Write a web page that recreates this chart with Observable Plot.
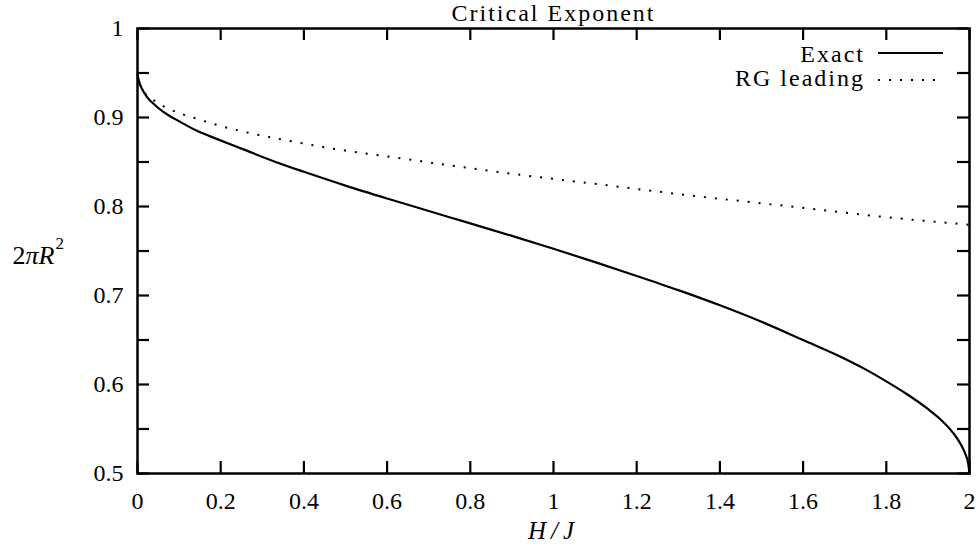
<!DOCTYPE html>
<html>
<head>
<meta charset="utf-8">
<script src="https://cdn.jsdelivr.net/npm/d3@7"></script>
<script src="https://cdn.jsdelivr.net/npm/@observablehq/plot@0.6"></script>
<style>
  html, body { margin: 0; padding: 0; background: #fff; }
</style>
</head>
<body>
<div id="chart"></div>
<script>
// ---- data ----
const exactX = [0, 0.004, 0.011, 0.023, 0.043, 0.063, 0.103, 0.143, 0.19, 0.25, 0.344, 0.4, 0.5, 0.6, 0.7, 0.8, 0.9, 1.0, 1.1, 1.2, 1.3, 1.4, 1.5, 1.6, 1.7, 1.75, 1.8, 1.85, 1.9, 1.93, 1.96, 1.98, 1.99, 1.997, 2.0];
const exactY = [0.948, 0.94, 0.932, 0.923, 0.9135, 0.906, 0.895, 0.885, 0.876, 0.865, 0.848, 0.839, 0.8235, 0.809, 0.795, 0.781, 0.767, 0.7525, 0.7375, 0.722, 0.706, 0.689, 0.6705, 0.650, 0.629, 0.617, 0.6035, 0.589, 0.5725, 0.561, 0.546, 0.532, 0.522, 0.511, 0.5];
const rgX = [0, 0.004, 0.01, 0.02, 0.04, 0.065, 0.1, 0.15, 0.2, 0.26, 0.34, 0.47, 0.62, 0.8, 1.0, 1.1, 1.3, 1.59, 1.8, 2.0];
const rgY = [0.95, 0.94, 0.932, 0.926, 0.919, 0.912, 0.905, 0.8975, 0.8905, 0.8835, 0.876, 0.865, 0.855, 0.843, 0.831, 0.8255, 0.814, 0.799, 0.788, 0.7795];
const xTickLabels = [0, 0.2, 0.4, 0.6, 0.8, 1, 1.2, 1.4, 1.6, 1.8, 2];
const yTickLabels = [0.5, 0.6, 0.7, 0.8, 0.9, 1];
const yTicks = [0.5, 0.55, 0.6, 0.65, 0.7, 0.75, 0.8, 0.85, 0.9, 0.95, 1];
const titleText = "Critical Exponent";
const xLabel = "H/J";
const yLabel = "2πR²";
const seriesNames = ["Exact", "RG leading"];

const exact = exactX.map((x, i) => ({x, y: exactY[i]}));
const rg = rgX.map((x, i) => ({x, y: rgY[i]}));

const W = 976, H = 559;
const mL = 137, mR = 7, mT = 28, mB = 86;
const fw = W - mL - mR, fh = H - mT - mB;
const tick = 12;
const serif = "'Liberation Serif', 'Times New Roman', serif";

const svg = Plot.plot({
  width: W, height: H,
  marginLeft: mL, marginRight: mR, marginTop: mT, marginBottom: mB,
  style: {fontFamily: serif, fontSize: "24px", color: "black", background: "white", overflow: "visible"},
  x: {domain: [0, 2], label: null},
  y: {domain: [0.5, 1], label: null},
  marks: [
    Plot.axisX(xTickLabels, {tickSize: 0, tickPadding: 18, fontSize: 24, label: null, tickFormat: d => String(d)}),
    Plot.axisY(yTickLabels, {tickSize: 0, tickPadding: 14, fontSize: 24, label: null, tickFormat: d => String(d)}),
    Plot.tickX(xTickLabels, {x: d => d, insetTop: fh - tick, stroke: "black", strokeWidth: 2.2}),
    Plot.tickX(xTickLabels, {x: d => d, insetBottom: fh - tick, stroke: "black", strokeWidth: 2.2}),
    Plot.tickY(yTicks, {y: d => d, insetRight: fw - tick, stroke: "black", strokeWidth: 2.2}),
    Plot.tickY(yTicks, {y: d => d, insetLeft: fw - tick, stroke: "black", strokeWidth: 2.2}),
    Plot.line(rg, {x: "x", y: "y", stroke: "black", strokeWidth: 2, strokeDasharray: "2 9", strokeLinecap: "butt", curve: "monotone-x"}),
    Plot.line(exact, {x: "x", y: "y", stroke: "black", strokeWidth: 2.2, curve: "monotone-x"}),
    Plot.frame({stroke: "black", strokeWidth: 2.5}),
    Plot.text([titleText], {frameAnchor: "top", lineAnchor: "middle", dy: -15, fontSize: 24, fill: "black"}),
    Plot.text([xLabel], {frameAnchor: "bottom", lineAnchor: "middle", dy: 57, fontSize: 25, fontStyle: "italic", fill: "black"}),
    Plot.text([yLabel], {frameAnchor: "left", lineAnchor: "middle", dx: -125, dy: 5, textAnchor: "start", fontSize: 26, fill: "black"})
  ]
});

// typographic touch-ups (text stays text)
svg.querySelectorAll("text").forEach(t => {
  const s = t.textContent;
  if (s === titleText) t.style.letterSpacing = "2px";
  if (s === xLabel) t.style.letterSpacing = "5px";
  if (s === yLabel) {
    t.textContent = "";
    const ns = "http://www.w3.org/2000/svg";
    const a = document.createElementNS(ns, "tspan"); a.textContent = "2"; t.appendChild(a);
    const b = document.createElementNS(ns, "tspan"); b.textContent = "πR"; b.setAttribute("font-style", "italic"); t.appendChild(b);
    const c = document.createElementNS(ns, "tspan"); c.textContent = "2"; c.setAttribute("font-size", "17"); c.setAttribute("dy", "-15"); c.setAttribute("dx", "1"); t.appendChild(c);
  }
});

// legend
const lg = d3.select(svg).append("g").attr("font-family", serif).attr("font-size", 24).attr("fill", "black");
const legendRows = [{name: seriesNames[0], dash: null, ty: 62, ly: 53}, {name: seriesNames[1], dash: "2 9", ty: 86, ly: 80}];
legendRows.forEach(r => {
  lg.append("text").attr("x", 865).attr("y", r.ty).attr("text-anchor", "end").style("letter-spacing", "2px").text(r.name);
  const ln = lg.append("line").attr("x1", 878).attr("x2", 943).attr("y1", r.ly).attr("y2", r.ly).attr("stroke", "black").attr("stroke-width", 2);
  if (r.dash) ln.attr("stroke-dasharray", r.dash);
});

document.getElementById("chart").appendChild(svg);
</script>
</body>
</html>
